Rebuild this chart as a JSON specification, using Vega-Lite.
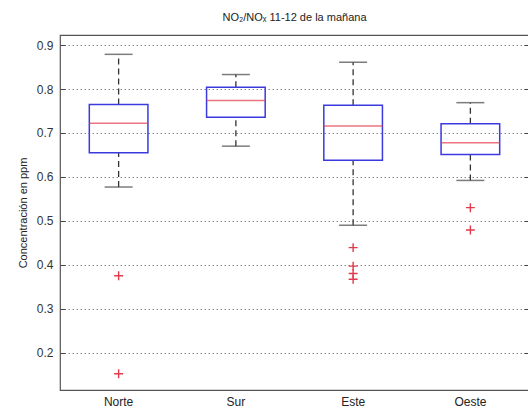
{
  "$schema": "https://vega.github.io/schema/vega-lite/v6.json",
  "width": 469,
  "height": 355,
  "autosize": {"type": "none"},
  "padding": {"left": 60, "top": 35, "right": 0, "bottom": 26},
  "title": {"text": "NO₂/NOₓ 11-12 de la mañana", "fontSize": 11, "font": "Liberation Sans", "fontWeight": "normal", "color": "#222", "offset": 12},
  "config": {"view": {"stroke": "#555", "strokeWidth": 1.2}, "font": "Liberation Sans"},
  "datasets": {
    "boxes": [
      {"region": "Norte", "lower": 0.577, "q1": 0.655, "median": 0.722, "q3": 0.765, "upper": 0.879},
      {"region": "Sur", "lower": 0.670, "q1": 0.736, "median": 0.774, "q3": 0.804, "upper": 0.833},
      {"region": "Este", "lower": 0.490, "q1": 0.638, "median": 0.716, "q3": 0.763, "upper": 0.861},
      {"region": "Oeste", "lower": 0.592, "q1": 0.651, "median": 0.678, "q3": 0.721, "upper": 0.769}
    ],
    "outliers": [
      {"region": "Norte", "value": 0.375},
      {"region": "Norte", "value": 0.152},
      {"region": "Este", "value": 0.439},
      {"region": "Este", "value": 0.397},
      {"region": "Este", "value": 0.380},
      {"region": "Este", "value": 0.367},
      {"region": "Oeste", "value": 0.530},
      {"region": "Oeste", "value": 0.479}
    ]
  },
  "encoding": {
    "x": {
      "field": "region", "type": "nominal", "sort": ["Norte", "Sur", "Este", "Oeste"],
      "scale": {"paddingInner": 0, "paddingOuter": 0},
      "axis": {"title": null, "ticks": false, "domain": false, "labelAngle": 0, "labelFontSize": 12, "labelColor": "#222", "labelPadding": 6, "grid": false}
    }
  },
  "layer": [
    {
      "data": {"name": "boxes"},
      "mark": {"type": "rule", "strokeDash": [6, 4], "color": "#333", "strokeWidth": 1.3},
      "encoding": {
        "y": {
          "field": "lower", "type": "quantitative",
          "scale": {"domain": [0.115, 0.923], "nice": false, "zero": false},
          "axis": {"orient": "left", "title": "Concentración en ppm", "titleFontSize": 11, "titleFontWeight": "normal", "titleColor": "#222", "titlePadding": 8,
                   "values": [0.2, 0.3, 0.4, 0.5, 0.6, 0.7, 0.8, 0.9], "format": ".1f", "labelFontSize": 12, "labelColor": "#333",
                   "tickSize": -5, "tickColor": "#444", "labelPadding": 12, "domain": false,
                   "grid": true, "gridColor": "#888", "gridDash": [1.5, 2.5], "gridWidth": 1}
        },
        "y2": {"field": "q1"}
      }
    },
    {
      "data": {"name": "boxes"},
      "mark": {"type": "rule", "strokeDash": [6, 4], "color": "#333", "strokeWidth": 1.3},
      "encoding": {
        "y": {"field": "q3", "type": "quantitative", "axis": null},
        "y2": {"field": "upper"}
      }
    },
    {
      "data": {"name": "boxes"},
      "mark": {"type": "tick", "color": "#444", "size": 28, "thickness": 1.5},
      "encoding": {"y": {"field": "lower", "type": "quantitative", "axis": null}}
    },
    {
      "data": {"name": "boxes"},
      "mark": {"type": "tick", "color": "#444", "size": 28, "thickness": 1.5},
      "encoding": {"y": {"field": "upper", "type": "quantitative", "axis": null}}
    },
    {
      "data": {"name": "boxes"},
      "mark": {"type": "bar", "fill": null, "fillOpacity": 0, "stroke": "#3a3adf", "strokeWidth": 1.5, "width": {"band": 0.5}},
      "encoding": {
        "y": {"field": "q1", "type": "quantitative", "axis": null},
        "y2": {"field": "q3"}
      }
    },
    {
      "data": {"name": "boxes"},
      "mark": {"type": "tick", "color": "#e23a4a", "size": 59, "thickness": 1.5},
      "encoding": {"y": {"field": "median", "type": "quantitative", "axis": null}}
    },
    {
      "data": {"name": "outliers"},
      "mark": {"type": "point", "shape": "M-1,0H1M0,-1V1", "filled": false, "stroke": "#e23a4a", "strokeWidth": 1.4, "size": 80, "opacity": 1},
      "encoding": {
        "y": {"field": "value", "type": "quantitative",
              "axis": {"orient": "right", "title": null, "labels": false, "grid": false, "domain": false, "tickSize": -5, "tickColor": "#444",
                       "values": [0.2, 0.3, 0.4, 0.5, 0.6, 0.7, 0.8, 0.9]}}
      }
    }
  ],
  "resolve": {"axis": {"y": "independent"}}
}
